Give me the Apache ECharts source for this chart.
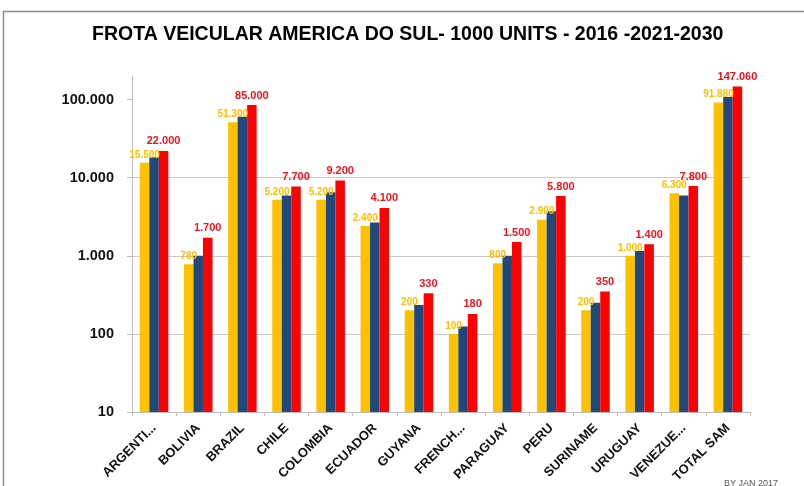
<!DOCTYPE html>
<html>
<head>
<meta charset="utf-8">
<script src="https://cdn.jsdelivr.net/npm/echarts@6/dist/echarts.min.js"></script>
<style>
  html, body { margin: 0; padding: 0; background: #fff; }
  #chart { width: 804px; height: 486px; }
</style>
</head>
<body>
<div id="chart"></div>
<script>
// Vehicle fleet of South America, thousands of units
const categories = ['ARGENTI...', 'BOLIVIA', 'BRAZIL', 'CHILE', 'COLOMBIA', 'ECUADOR', 'GUYANA',
  'FRENCH...', 'PARAGUAY', 'PERU', 'SURINAME', 'URUGUAY', 'VENEZUE...', 'TOTAL SAM'];
const fleet2016 = [15500, 780, 51300, 5200, 5200, 2400, 200, 100, 800, 2900, 200, 1000, 6300, 91880];
const fleet2021 = [18200, 1000, 60000, 5900, 6500, 2670, 235, 124, 1000, 3700, 251, 1150, 5900, 108000];
const fleet2030 = [22000, 1700, 85000, 7700, 9200, 4100, 330, 180, 1500, 5800, 350, 1400, 7800, 147060];
const yTicks = [10, 100, 1000, 10000, 100000];

const fmt = v => String(Math.round(v)).replace(/\B(?=(\d{3})+(?!\d))/g, '.');
const FONT = '"Liberation Sans", Arial, sans-serif';

const chart = echarts.init(document.getElementById('chart'), null, { renderer: 'canvas' });
chart.setOption({
  backgroundColor: '#fff',
  animation: false,
  title: {
    text: 'FROTA VEICULAR AMERICA DO SUL- 1000 UNITS - 2016 -2021-2030',
    left: 87,
    top: 20,
    textStyle: { fontFamily: FONT, fontWeight: 'bold', fontSize: 19.5, color: '#000' }
  },
  graphic: [
    {
      type: 'rect',
      shape: { x: 3.5, y: 11.5, width: 900, height: 600 },
      style: { fill: 'none', stroke: '#8c8c8c', lineWidth: 1.5 },
      silent: true
    },
    {
      type: 'text',
      left: 724,
      top: 479,
      style: { text: 'BY JAN 2017', font: '9px ' + FONT, fill: '#555' },
      silent: true
    }
  ],
  grid: { left: 132, right: 54, top: 76, bottom: 74 },
  xAxis: {
    type: 'category',
    data: categories,
    axisLine: { lineStyle: { color: '#bdbdbd', width: 1 } },
    axisTick: { show: true, length: 4, lineStyle: { color: '#bdbdbd' } },
    axisLabel: {
      interval: 0,
      rotate: 45,
      margin: 14,
      fontFamily: FONT,
      fontWeight: 'bold',
      fontSize: 13,
      color: '#111'
    }
  },
  yAxis: {
    type: 'log',
    logBase: 10,
    min: 10,
    max: 200000,
    axisLine: { show: true, lineStyle: { color: '#bdbdbd', width: 1 } },
    axisTick: { show: true, length: 5, lineStyle: { color: '#bdbdbd' }, customValues: yTicks },
    axisLabel: {
      customValues: yTicks,
      margin: 18,
      fontFamily: FONT,
      fontWeight: 'bold',
      fontSize: 14.5,
      color: '#111',
      formatter: v => fmt(v)
    },
    splitLine: { show: true, showMaxLine: false, lineStyle: { color: '#c8c8c8', width: 1 } }
  },
  series: [
    {
      name: '2016',
      type: 'bar',
      data: fleet2016,
      barWidth: 9.5,
      barGap: '0%',
      itemStyle: { color: '#FFC000' },
      label: {
        show: true,
        position: 'top',
        distance: 3,
        formatter: p => fmt(p.value),
        fontFamily: FONT,
        fontWeight: 'bold',
        fontSize: 10,
        color: '#FFC000'
      }
    },
    {
      name: '2021',
      type: 'bar',
      data: fleet2021,
      barWidth: 9.5,
      barGap: '0%',
      itemStyle: { color: '#1F497D' }
    },
    {
      name: '2030',
      type: 'bar',
      data: fleet2030,
      barWidth: 9.5,
      barGap: '0%',
      itemStyle: { color: '#FF0000' },
      label: {
        show: true,
        position: 'top',
        distance: 4,
        formatter: p => fmt(p.value),
        fontFamily: FONT,
        fontWeight: 'bold',
        fontSize: 11,
        color: '#F0141E'
      }
    }
  ]
});
</script>
</body>
</html>
